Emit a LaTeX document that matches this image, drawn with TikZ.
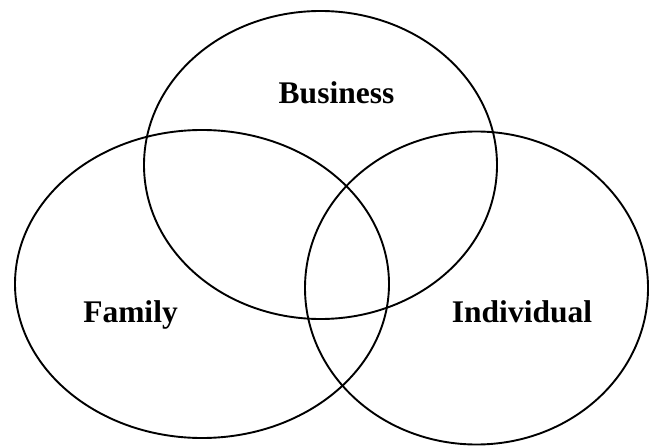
\documentclass[tikz,border=0pt]{standalone}
\usepackage{fontspec}
\setmainfont{Liberation Serif}
\begin{document}
\begin{tikzpicture}[x=1pt,y=-1pt,
  ring/.style={draw=black,line width=1.9pt},
  lbl/.style={font=\fontsize{31.5}{36}\selectfont\bfseries,anchor=base,inner sep=0pt}]
\useasboundingbox (0,0) rectangle (655,446);
\draw[ring] (320.5,165) ellipse [x radius=176.5, y radius=154];
\draw[ring] (202,284) ellipse [x radius=187, y radius=154];
\draw[ring] (476.5,288) ellipse [x radius=171.5, y radius=156.5];
\node[lbl] (business) at (336.5,104) {Business};
\node[lbl] (family) at (130.5,322) {Family};
\node[lbl] (individual) at (522,322) {Individual};
\end{tikzpicture}
\end{document}
